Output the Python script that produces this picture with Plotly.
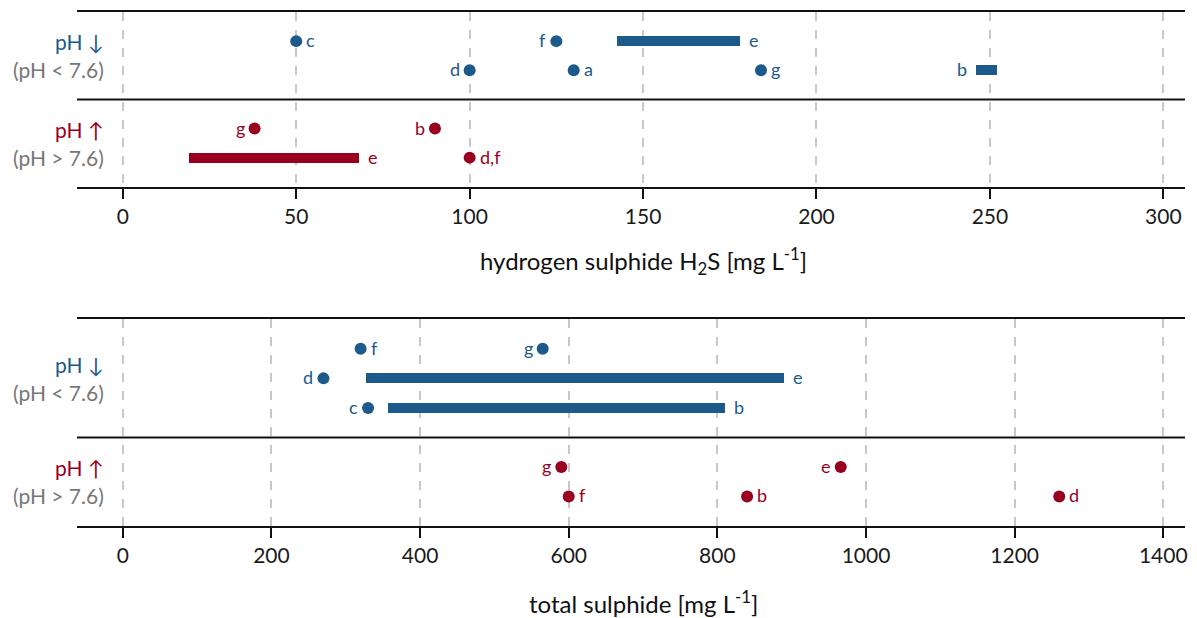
import plotly.graph_objects as go

BLUE = "#1B5A8A"
RED = "#990020"
GREY_TXT = "#777777"
FONT = "Lato"

# ---------------- hydrogen sulphide (H2S) ----------------
h2s_low_pt_labels = ["c", "f", "d", "a", "g"]
h2s_low_pt_values = [50, 125, 100, 130, 184]
h2s_low_pt_lanes = [1, 1, 2, 2, 2]
h2s_low_rng_labels = ["e", "b"]
h2s_low_rng_start = [142.5, 246]
h2s_low_rng_end = [178, 252]
h2s_low_rng_lanes = [1, 2]

h2s_high_pt_labels = ["g", "b", "d,f"]
h2s_high_pt_values = [38, 90, 100]
h2s_high_pt_lanes = [1, 1, 2]
h2s_high_rng_labels = ["e"]
h2s_high_rng_start = [19]
h2s_high_rng_end = [68]
h2s_high_rng_lanes = [2]

h2s_ticks = [0, 50, 100, 150, 200, 250, 300]

# ---------------- total sulphide ----------------
tot_low_pt_labels = ["f", "g", "d", "c"]
tot_low_pt_values = [320, 565, 270, 330]
tot_low_pt_lanes = [1, 1, 2, 3]
tot_low_rng_labels = ["e", "b"]
tot_low_rng_start = [327, 357]
tot_low_rng_end = [890, 810]
tot_low_rng_lanes = [2, 3]

tot_high_pt_labels = ["g", "e", "f", "b", "d"]
tot_high_pt_values = [590, 966, 600, 840, 1260]
tot_high_pt_lanes = [1, 1, 2, 2, 2]
tot_high_rng_labels = []
tot_high_rng_start = []
tot_high_rng_end = []
tot_high_rng_lanes = []

tot_ticks = [0, 200, 400, 600, 800, 1000, 1200, 1400]

# which side of the mark each text label sits on
h2s_low_pt_side = ["r", "l", "l", "r", "r"]
h2s_low_rng_side = ["r", "l"]
h2s_high_pt_side = ["l", "l", "r"]
h2s_high_rng_side = ["r"]
tot_low_pt_side = ["r", "l", "l", "l"]
tot_low_rng_side = ["r", "r"]
tot_high_pt_side = ["l", "l", "r", "r", "r"]
tot_high_rng_side = []

fig = go.Figure()
annotations = []
shapes = []


def add_group(xa, ya, offset, colour, pt, rng):
    labels, values, lanes, sides = pt
    ys = [offset + l for l in lanes]
    fig.add_trace(go.Scatter(
        x=values, y=ys, mode="markers", xaxis=xa, yaxis=ya,
        marker=dict(color=colour, size=12, line=dict(width=0)),
        showlegend=False, hoverinfo="skip"))
    for lab, v, y, s in zip(labels, values, ys, sides):
        annotations.append(dict(
            x=v, y=y, xref=xa, yref=ya, text=lab, showarrow=False,
            xanchor="left" if s == "r" else "right",
            xshift=8 if s == "r" else -8, yshift=1,
            font=dict(family=FONT, size=18, color=colour)))
    r_labels, r_start, r_end, r_lanes, r_sides = rng
    if r_labels:
        rys = [offset + l for l in r_lanes]
        fig.add_trace(go.Bar(
            orientation="h", base=r_start,
            x=[e - s for s, e in zip(r_start, r_end)], y=rys,
            xaxis=xa, yaxis=ya, width=0.34,
            marker=dict(color=colour, line=dict(width=0)),
            showlegend=False, hoverinfo="skip"))
        for lab, s0, e0, y, s in zip(r_labels, r_start, r_end, rys, r_sides):
            annotations.append(dict(
                x=e0 if s == "r" else s0, y=y, xref=xa, yref=ya, text=lab,
                showarrow=False,
                xanchor="left" if s == "r" else "right",
                xshift=7 if s == "r" else -7, yshift=1,
                font=dict(family=FONT, size=18, color=colour)))


def add_panel(xa, ya, n_low, n_high, low, high):
    add_group(xa, ya, 0, BLUE, *low)
    add_group(xa, ya, n_low + 1, RED, *high)
    split = n_low + 1
    shapes.append(dict(type="line", xref=f"{xa} domain", x0=0, x1=1,
                       yref=ya, y0=split, y1=split,
                       line=dict(color="#111111", width=2), layer="above"))
    for centre, head, cond, colour in [
        ((n_low + 1) / 2, "pH \u2193", "(pH < 7.6)", BLUE),
        (split + (n_high + 1) / 2, "pH \u2191", "(pH > 7.6)", RED),
    ]:
        annotations.append(dict(x=0.0262, y=centre - 0.48, xref="paper", yref=ya,
                                text=head, showarrow=False, xanchor="right",
                                font=dict(family=FONT, size=21, color=colour)))
        annotations.append(dict(x=0.0262, y=centre + 0.48, xref="paper", yref=ya,
                                text=cond, showarrow=False, xanchor="right",
                                font=dict(family=FONT, size=21, color=GREY_TXT)))
    return n_low + n_high + 2


top_total = add_panel(
    "x", "y", 2, 2,
    ((h2s_low_pt_labels, h2s_low_pt_values, h2s_low_pt_lanes, h2s_low_pt_side),
     (h2s_low_rng_labels, h2s_low_rng_start, h2s_low_rng_end, h2s_low_rng_lanes, h2s_low_rng_side)),
    ((h2s_high_pt_labels, h2s_high_pt_values, h2s_high_pt_lanes, h2s_high_pt_side),
     (h2s_high_rng_labels, h2s_high_rng_start, h2s_high_rng_end, h2s_high_rng_lanes, h2s_high_rng_side)),
)
bot_total = add_panel(
    "x2", "y2", 3, 2,
    ((tot_low_pt_labels, tot_low_pt_values, tot_low_pt_lanes, tot_low_pt_side),
     (tot_low_rng_labels, tot_low_rng_start, tot_low_rng_end, tot_low_rng_lanes, tot_low_rng_side)),
    ((tot_high_pt_labels, tot_high_pt_values, tot_high_pt_lanes, tot_high_pt_side),
     (tot_high_rng_labels, tot_high_rng_start, tot_high_rng_end, tot_high_rng_lanes, tot_high_rng_side)),
)

# axis titles
annotations.append(dict(x=0.511, y=0.516, xref="paper", yref="paper",
                        text="hydrogen sulphide H<sub>2</sub>S [mg L<sup>-1</sup>]",
                        showarrow=False, xanchor="center", yanchor="middle",
                        font=dict(family=FONT, size=24, color="#111111")))
annotations.append(dict(x=0.511, y=-0.147, xref="paper", yref="paper",
                        text="total sulphide [mg L<sup>-1</sup>]",
                        showarrow=False, xanchor="center", yanchor="middle",
                        font=dict(family=FONT, size=24, color="#111111")))

xcommon = dict(showline=True, mirror=True, linecolor="#111111", linewidth=2,
               ticks="outside", ticklen=10, tickwidth=1.5, tickcolor="#111111",
               showgrid=True, gridcolor="#C8C8C8", gridwidth=1.5, griddash="dash",
               zeroline=False, automargin=False,
               tickfont=dict(family=FONT, size=21, color="#1a1a1a"))
ycommon = dict(showgrid=False, zeroline=False, showticklabels=False, ticks="",
               showline=False, automargin=False)

fig.update_layout(
    width=1197, height=618,
    margin=dict(l=77, r=12, t=12, b=92),
    paper_bgcolor="white", plot_bgcolor="white",
    barmode="overlay", bargap=0,
    xaxis=dict(domain=[0, 1], anchor="y", range=[-13.2, 306.25],
               tickvals=h2s_ticks, **xcommon),
    yaxis=dict(domain=[0.660, 1.0], anchor="x", range=[top_total, 0], **ycommon),
    xaxis2=dict(domain=[0, 1], anchor="y2", range=[-61.6, 1429.2],
                tickvals=tot_ticks, **xcommon),
    yaxis2=dict(domain=[0.0, 0.4021], anchor="x2", range=[bot_total, 0], **ycommon),
    annotations=annotations,
    shapes=shapes,
    font=dict(family=FONT),
)

fig.write_html("out.html")
